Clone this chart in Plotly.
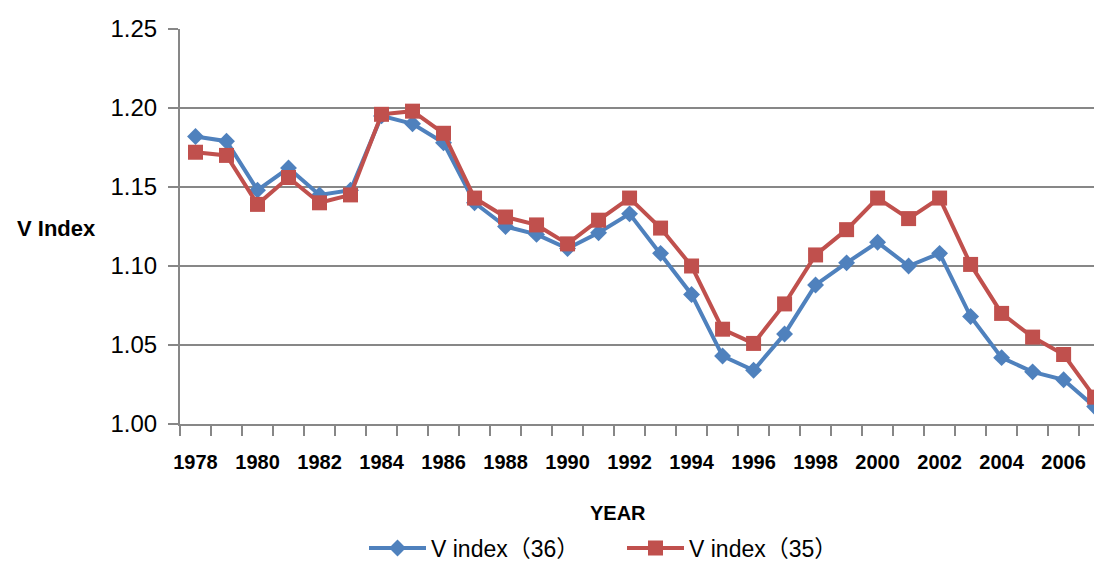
import plotly.graph_objects as go

years = list(range(1978, 2008))
v36 = [1.182, 1.179, 1.148, 1.162, 1.145, 1.148, 1.195, 1.190, 1.178, 1.140,
       1.125, 1.120, 1.111, 1.121, 1.133, 1.108, 1.082, 1.043, 1.034, 1.057,
       1.088, 1.102, 1.115, 1.100, 1.108, 1.068, 1.042, 1.033, 1.028, 1.011]
v35 = [1.172, 1.170, 1.139, 1.156, 1.140, 1.145, 1.196, 1.198, 1.184, 1.143,
       1.131, 1.126, 1.114, 1.129, 1.143, 1.124, 1.100, 1.060, 1.051, 1.076,
       1.107, 1.123, 1.143, 1.130, 1.143, 1.101, 1.070, 1.055, 1.044, 1.017]
year_labels = list(range(1978, 2007, 2))
y_ticks = [1.00, 1.05, 1.10, 1.15, 1.20, 1.25]

blue = "#4F81BD"
red = "#C0504D"
grid = "#878787"
fnt = "Liberation Sans, Noto Sans CJK SC"

fig = go.Figure()
fig.add_trace(go.Scatter(x=years, y=v36, mode="lines+markers", name="V index（36）",
                         line=dict(color=blue, width=4),
                         marker=dict(symbol="diamond", size=13, color=blue)))
fig.add_trace(go.Scatter(x=years, y=v35, mode="lines+markers", name="V index（35）",
                         line=dict(color=red, width=4),
                         marker=dict(symbol="square", size=15, color=red)))

fig.update_layout(
    width=1094, height=561,
    margin=dict(l=180, r=0, t=29, b=137, autoexpand=False),
    plot_bgcolor="white", paper_bgcolor="white",
    font=dict(family=fnt, color="black"),
    showlegend=True,
    legend=dict(orientation="h", x=(364 - 180) / 914, xanchor="left", y=-0.314, yanchor="middle",
                font=dict(size=23, family=fnt), itemwidth=57,
                entrywidth=186, entrywidthmode="pixels"),
    annotations=[
        dict(text="<b>V Index</b>", xref="paper", yref="paper", x=-0.1805, y=0.494,
             xanchor="left", yanchor="middle", showarrow=False, font=dict(size=22)),
        dict(text="<b>YEAR</b>", xref="paper", yref="paper", x=(618 - 180) / 914, y=(424 - 513) / 395,
             xanchor="center", yanchor="middle", showarrow=False, font=dict(size=20)),
    ],
)
fig.update_xaxes(
    automargin=False,
    range=[1977.5, 2006.98], tickvals=year_labels, ticks="outside", ticklen=0,
    ticklabelstandoff=19, tickfont=dict(size=20, family="Liberation Sans", weight="bold"),
    showgrid=False, showline=True, linecolor=grid, linewidth=2,
    minor=dict(tick0=1977.5, dtick=1, ticks="outside", ticklen=10, tickcolor=grid,
               tickwidth=2, showgrid=False),
)
fig.update_yaxes(
    automargin=False,
    range=[1.0, 1.25], tickvals=y_ticks, tickformat=".2f", ticks="outside", ticklen=10,
    tickcolor=grid, tickwidth=2, ticklabelstandoff=6, tickfont=dict(size=24),
    showgrid=True, gridcolor=grid, gridwidth=2, showline=True, linecolor=grid, linewidth=2,
    zeroline=False,
)

# drop the default 8px body margin so the figure sits at the window's corner
fig.write_html("out.html", config={"displayModeBar": False},
               post_script="document.body.style.margin='0';")
